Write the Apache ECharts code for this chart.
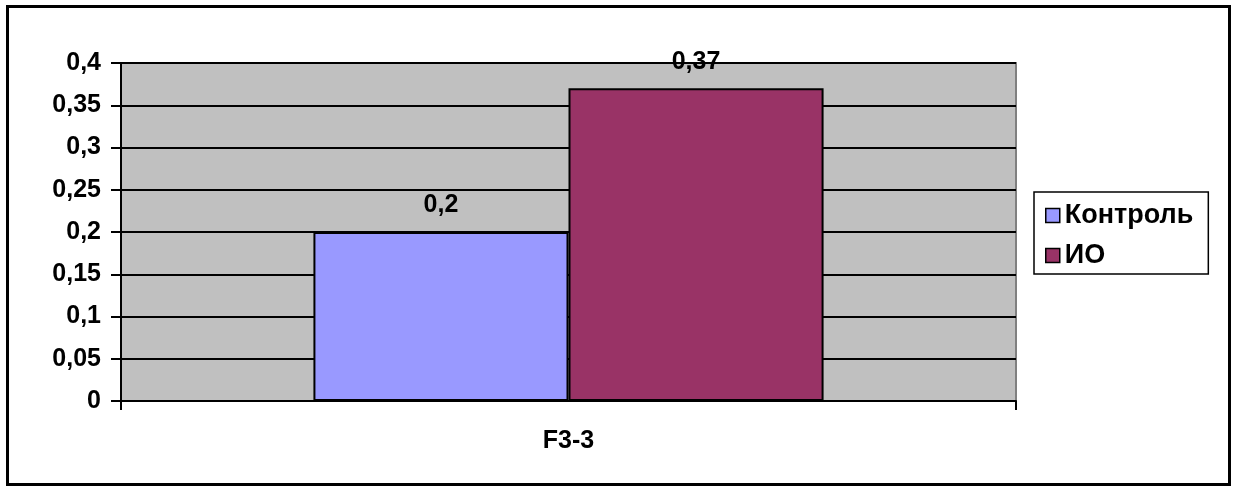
<!DOCTYPE html>
<html>
<head>
<meta charset="utf-8">
<script src="https://cdn.jsdelivr.net/npm/echarts@6/dist/echarts.min.js"></script>
<style>
  html, body { margin: 0; padding: 0; background: #fff; }
  #chart { width: 1234px; height: 492px; }
</style>
</head>
<body>
<div id="chart"></div>
<script>
// Category and series values
const categories = ['F3-3'];
const seriesNames = ['Контроль', 'ИО'];
const controlValues = [0.2];
const ioValues = [0.37];
const seriesColors = ['#9999FF', '#993366'];

const FONT = '"Liberation Sans", Arial, sans-serif';
const comma = v => String(+(+v).toFixed(2)).replace('.', ',');

const chart = echarts.init(document.getElementById('chart'), null, { renderer: 'canvas' });

const barSeries = (name, data, color) => ({
  name,
  type: 'bar',
  data,
  barGap: '0%',
  barCategoryGap: '43%',
  itemStyle: { color, borderColor: '#000', borderWidth: 2 },
  label: {
    show: true,
    position: 'top',
    distance: 14,
    formatter: p => comma(p.value),
    fontFamily: FONT,
    fontSize: 25,
    fontWeight: 'bold',
    color: '#000'
  }
});

chart.setOption({
  animation: false,
  backgroundColor: '#fff',
  textStyle: { fontFamily: FONT },
  graphic: [{
    type: 'rect',
    shape: { x: 7.5, y: 6.5, width: 1222, height: 478 },
    style: { fill: 'none', stroke: '#000', lineWidth: 3 },
    z: -1
  }],
  grid: {
    left: 121, top: 63, right: 218, bottom: 91,
    show: true,
    backgroundColor: '#C0C0C0',
    borderColor: '#808080',
    borderWidth: 2
  },
  legend: {
    orient: 'vertical',
    left: 1034,
    top: 192,
    backgroundColor: '#fff',
    borderColor: '#000',
    borderWidth: 1.5,
    borderRadius: 0,
    padding: [10, 15, 5, 11],
    itemWidth: 14,
    itemHeight: 14,
    itemGap: 13,
    icon: 'rect',
    itemStyle: { borderColor: '#000', borderWidth: 1.5 },
    textStyle: { fontFamily: FONT, fontSize: 27, fontWeight: 'bold', color: '#000', padding: [0, 0, 0, 0] },
    data: seriesNames
  },
  xAxis: {
    type: 'category',
    data: categories,
    boundaryGap: true,
    axisLine: { show: true, lineStyle: { color: '#000', width: 2 } },
    axisTick: { show: true, length: 9, lineStyle: { color: '#000', width: 2 } },
    axisLabel: { margin: 28, fontFamily: FONT, fontSize: 25, fontWeight: 'bold', color: '#000' },
    splitLine: { show: false }
  },
  yAxis: {
    type: 'value',
    min: 0,
    max: 0.4,
    interval: 0.05,
    axisLine: { show: true, lineStyle: { color: '#000', width: 2 } },
    axisTick: { show: true, length: 10, lineStyle: { color: '#000', width: 2 } },
    axisLabel: { margin: 20, fontFamily: FONT, fontSize: 25, fontWeight: 'bold', color: '#000', formatter: comma },
    splitLine: { show: true, lineStyle: { color: '#000', width: 2 } }
  },
  series: [
    barSeries(seriesNames[0], controlValues, seriesColors[0]),
    barSeries(seriesNames[1], ioValues, seriesColors[1])
  ]
});
</script>
</body>
</html>
